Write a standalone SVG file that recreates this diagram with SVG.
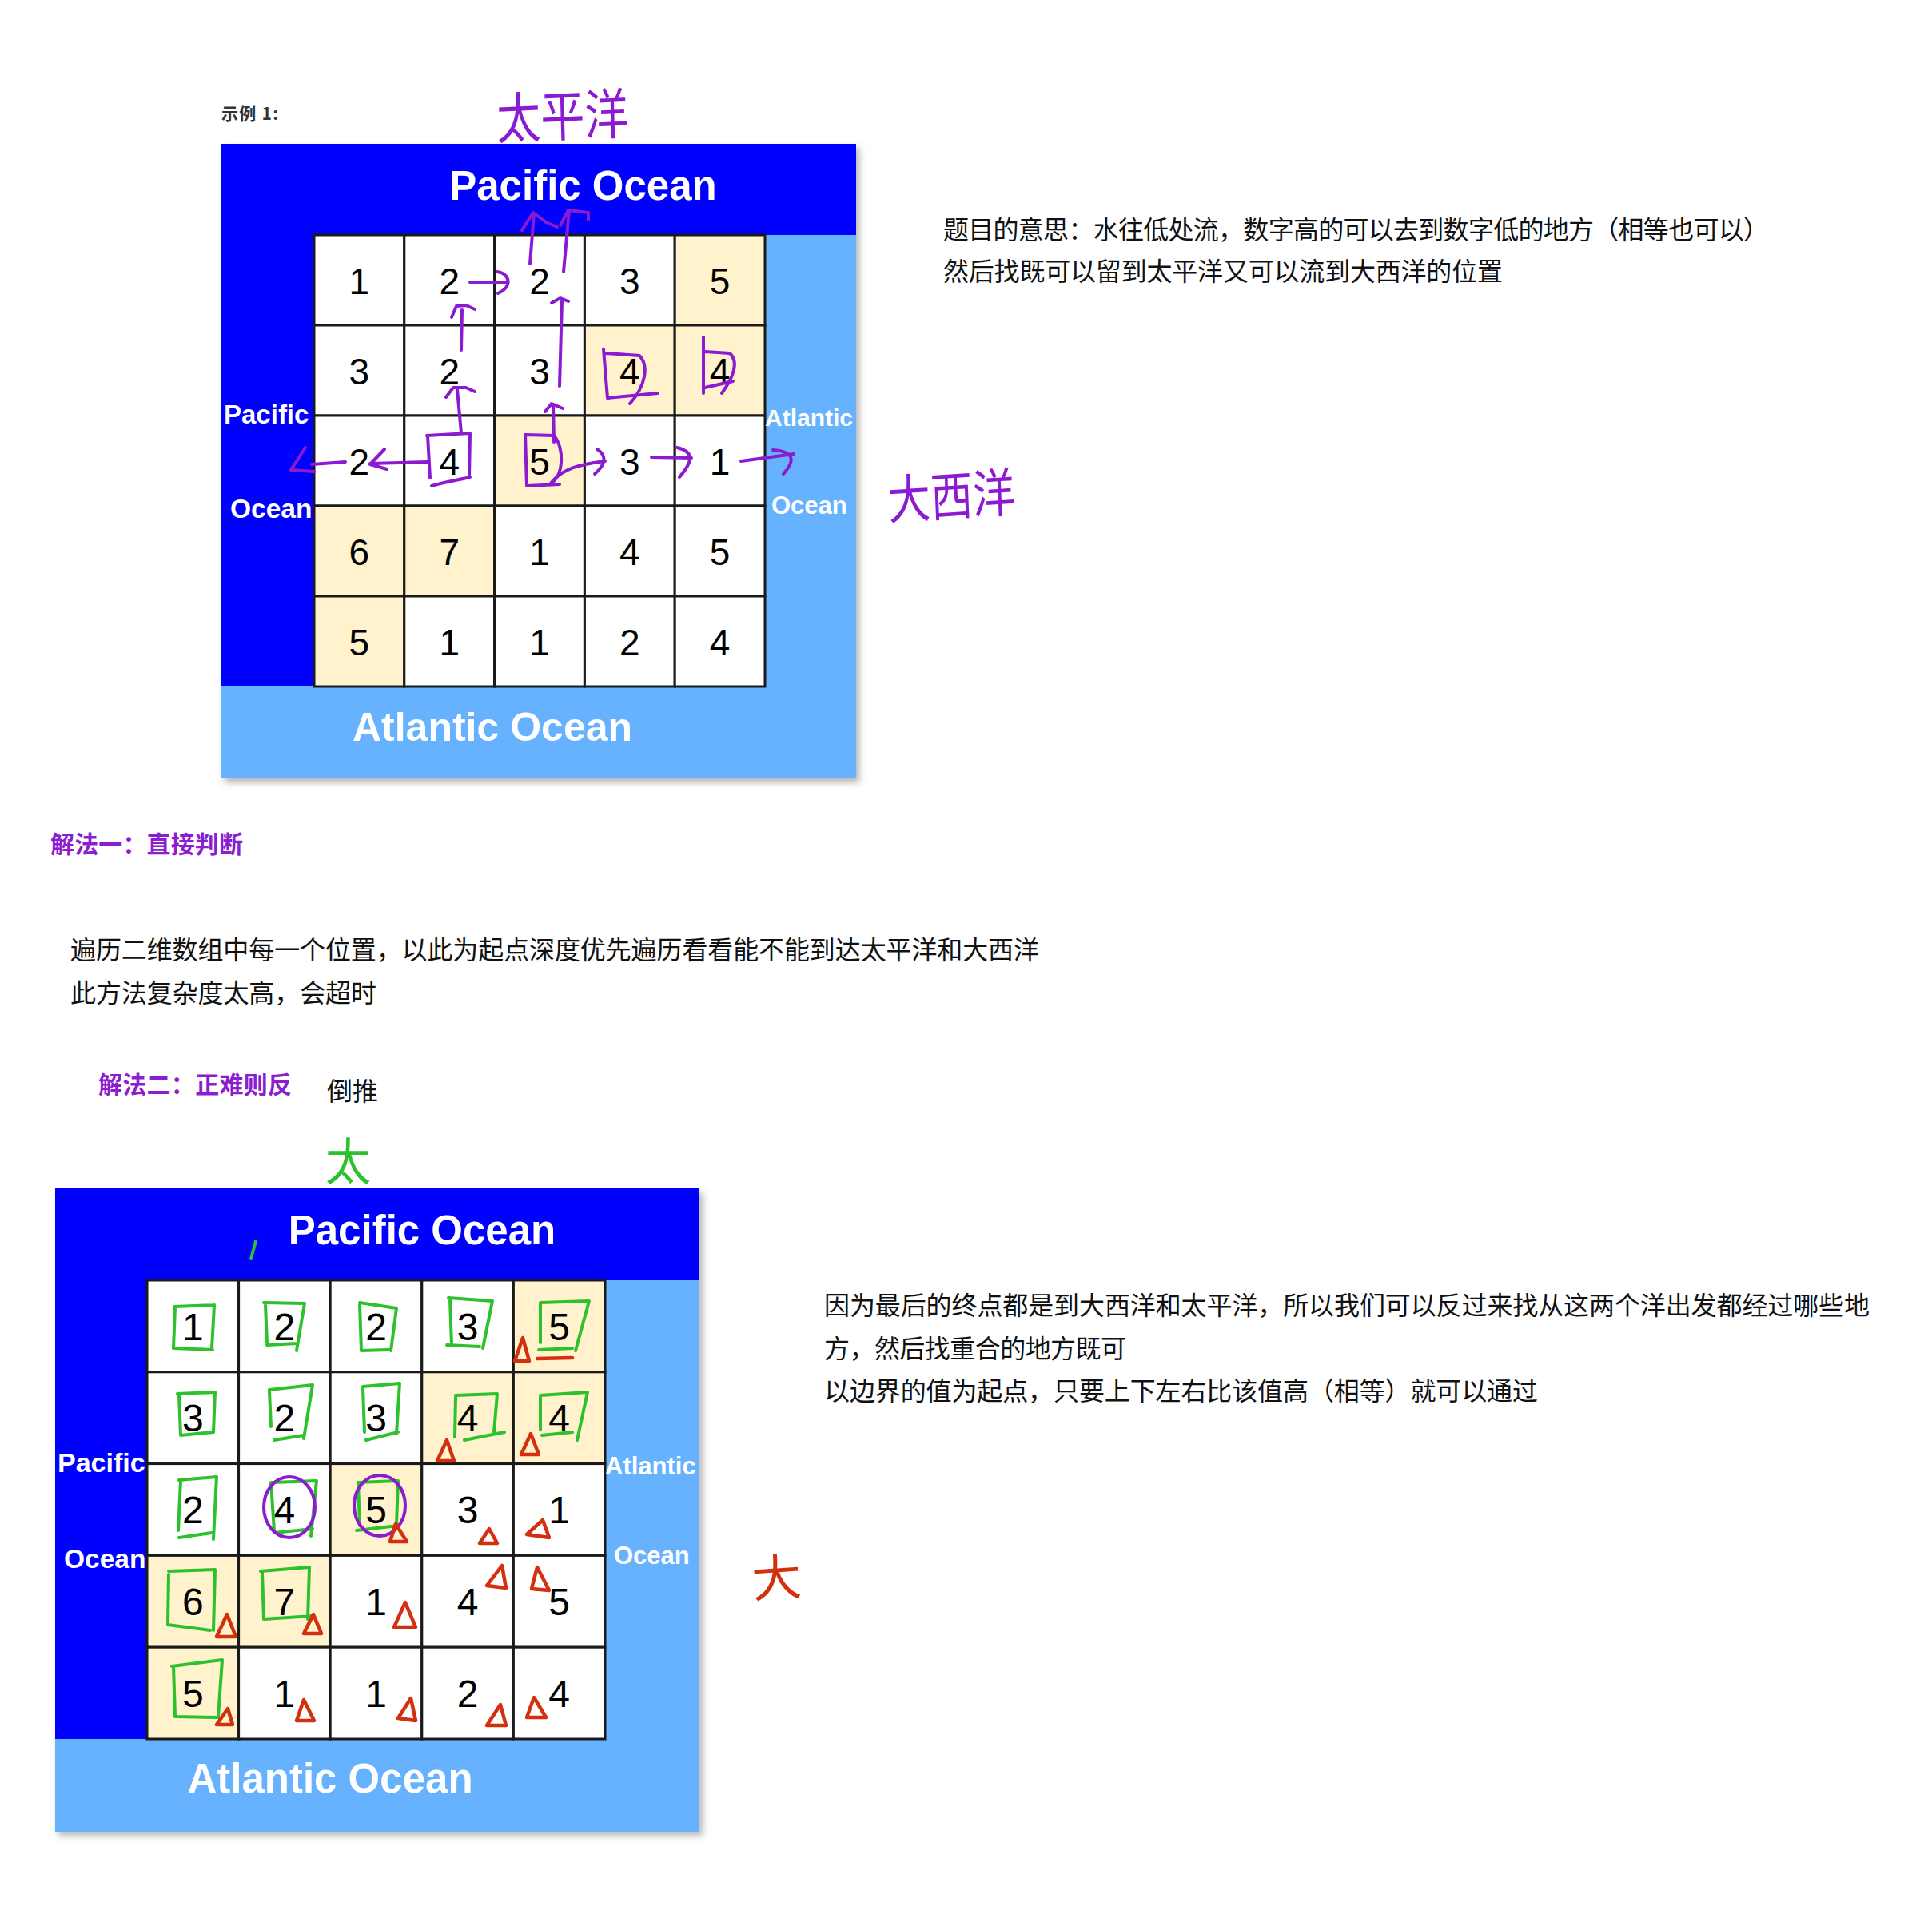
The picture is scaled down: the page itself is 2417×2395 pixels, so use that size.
<svg xmlns="http://www.w3.org/2000/svg" width="2417" height="2395" viewBox="0 0 2417 2395">
<defs>
<filter id="sh" x="-5%" y="-5%" width="115%" height="115%">
<feDropShadow dx="4" dy="5" stdDeviation="4" flood-color="#777" flood-opacity="0.55"/>
</filter>
</defs>
<style>
.dk{fill:#0000FF}
.lt{fill:#66B2FF}
.w{fill:#FFFFFF;stroke:#1a1a1a;stroke-width:3}
.c{fill:#FFF2CC;stroke:#1a1a1a;stroke-width:3}
.n{font-family:"Liberation Sans",Arial,sans-serif;fill:#000;text-anchor:middle;font-size:46px}
.nb{font-family:"Liberation Sans",Arial,sans-serif;fill:#000;text-anchor:middle;font-size:48px}
.l{font-family:"Liberation Sans",Arial,sans-serif;font-weight:bold;fill:#fff}
.cn{font-family:"Noto Sans CJK SC","Liberation Sans",sans-serif;fill:#111;font-size:32px}
.hd{font-family:"Noto Sans CJK SC","Liberation Sans",sans-serif;fill:#8A1ED2;font-size:30px;font-weight:bold}
.hw{font-family:"Noto Sans CJK SC",sans-serif}
.pp{fill:none;stroke:#8A1BD1;stroke-width:4;stroke-linecap:round;stroke-linejoin:round}
.gr{fill:none;stroke:#2DC22D;stroke-width:4;stroke-linecap:round;stroke-linejoin:round}
.rd{fill:none;stroke:#D2300F;stroke-width:4.5;stroke-linecap:round;stroke-linejoin:round}
</style>
<rect width="2417" height="2395" fill="#fff"/>

<text id="example-label" x="277" y="150" font-family="Noto Sans CJK SC, sans-serif" font-size="21" font-weight="bold" fill="#333" textLength="71">示例 1:</text>
<text id="hw-pacific" class="hw" transform="translate(622,174) scale(1,1.25) rotate(-2)" font-size="55" fill="#8A1BD1">太平洋</text>

<g id="top-diagram">
<g filter="url(#sh)">
<rect x="277" y="180" width="794" height="794" class="lt"/>
</g>
<rect x="277" y="180" width="794" height="114" class="dk"/>
<rect x="277" y="180" width="116" height="679" class="dk"/>
<g id="top-cells">
<g id="t00"><rect x="393" y="294" width="112.8" height="113" class="w"/><text x="449.4" y="367.5" class="n">1</text></g>
<g id="t01"><rect x="505.8" y="294" width="112.8" height="113" class="w"/><text x="562.2" y="367.5" class="n">2</text></g>
<g id="t02"><rect x="618.6" y="294" width="112.8" height="113" class="w"/><text x="675" y="367.5" class="n">2</text></g>
<g id="t03"><rect x="731.4" y="294" width="112.8" height="113" class="w"/><text x="787.8" y="367.5" class="n">3</text></g>
<g id="t04"><rect x="844.2" y="294" width="112.8" height="113" class="c"/><text x="900.6" y="367.5" class="n">5</text></g>
<g id="t10"><rect x="393" y="407" width="112.8" height="113" class="w"/><text x="449.4" y="480.5" class="n">3</text></g>
<g id="t11"><rect x="505.8" y="407" width="112.8" height="113" class="w"/><text x="562.2" y="480.5" class="n">2</text></g>
<g id="t12"><rect x="618.6" y="407" width="112.8" height="113" class="w"/><text x="675" y="480.5" class="n">3</text></g>
<g id="t13"><rect x="731.4" y="407" width="112.8" height="113" class="c"/><text x="787.8" y="480.5" class="n">4</text></g>
<g id="t14"><rect x="844.2" y="407" width="112.8" height="113" class="c"/><text x="900.6" y="480.5" class="n">4</text></g>
<g id="t20"><rect x="393" y="520" width="112.8" height="113" class="w"/><text x="449.4" y="593.5" class="n">2</text></g>
<g id="t21"><rect x="505.8" y="520" width="112.8" height="113" class="w"/><text x="562.2" y="593.5" class="n">4</text></g>
<g id="t22"><rect x="618.6" y="520" width="112.8" height="113" class="c"/><text x="675" y="593.5" class="n">5</text></g>
<g id="t23"><rect x="731.4" y="520" width="112.8" height="113" class="w"/><text x="787.8" y="593.5" class="n">3</text></g>
<g id="t24"><rect x="844.2" y="520" width="112.8" height="113" class="w"/><text x="900.6" y="593.5" class="n">1</text></g>
<g id="t30"><rect x="393" y="633" width="112.8" height="113" class="c"/><text x="449.4" y="706.5" class="n">6</text></g>
<g id="t31"><rect x="505.8" y="633" width="112.8" height="113" class="c"/><text x="562.2" y="706.5" class="n">7</text></g>
<g id="t32"><rect x="618.6" y="633" width="112.8" height="113" class="w"/><text x="675" y="706.5" class="n">1</text></g>
<g id="t33"><rect x="731.4" y="633" width="112.8" height="113" class="w"/><text x="787.8" y="706.5" class="n">4</text></g>
<g id="t34"><rect x="844.2" y="633" width="112.8" height="113" class="w"/><text x="900.6" y="706.5" class="n">5</text></g>
<g id="t40"><rect x="393" y="746" width="112.8" height="113" class="c"/><text x="449.4" y="819.5" class="n">5</text></g>
<g id="t41"><rect x="505.8" y="746" width="112.8" height="113" class="w"/><text x="562.2" y="819.5" class="n">1</text></g>
<g id="t42"><rect x="618.6" y="746" width="112.8" height="113" class="w"/><text x="675" y="819.5" class="n">1</text></g>
<g id="t43"><rect x="731.4" y="746" width="112.8" height="113" class="w"/><text x="787.8" y="819.5" class="n">2</text></g>
<g id="t44"><rect x="844.2" y="746" width="112.8" height="113" class="w"/><text x="900.6" y="819.5" class="n">4</text></g>
</g>
<text class="l" x="729.5" y="250" font-size="51" text-anchor="middle">Pacific Ocean</text>
<text class="l" x="280" y="530" font-size="33">Pacific</text>
<text class="l" x="288" y="648" font-size="33.5">Ocean</text>
<text class="l" x="957" y="533" font-size="30">Atlantic</text>
<text class="l" x="965" y="643" font-size="31">Ocean</text>
<text class="l" x="616" y="927" font-size="50" text-anchor="middle">Atlantic Ocean</text>
</g>

<g id="top-annotations">
<path class="pp" d="M588 353 L634 353 M622 340 C640 343 640 360 623 367"/>
<path class="pp" d="M663 330 L668 267 M653 288 L667 266 L683 278 L697 284"/>
<path class="pp" d="M705 340 L712 263 M701 282 L711 263 L736 266 L736 275"/>
<path class="pp" d="M577 438 L578 388 M565 397 L571 383 L583 382 L594 387"/>
<path class="pp" d="M577 542 L572 487 M558 497 L567 485 L583 485 L594 490"/>
<path class="pp" d="M534 545 L588 542 L587 597 M535 545 L538 598 M540 608 C557 603 576 600 588 597"/>
<path class="pp" d="M535 578 L463 580 M481 562 L463 581 L484 587"/>
<path class="pp" d="M432 578 L390 581 M382 560 L364 588 L393 590"/>
<path class="pp" d="M693 553 L692 507 M682 515 L690 505 L704 511"/>
<path class="pp" d="M700 483 L703 377 M690 379 L701 373 L711 377"/>
<path class="pp" d="M657 544 L659 608 L700 606 M657 544 L693 545 C706 560 706 595 688 606 M688 606 C700 590 716 582 757 577 M747 562 C759 570 759 580 744 593"/>
<path class="pp" d="M815 572 L865 573 M847 560 C868 565 868 576 850 597"/>
<path class="pp" d="M927 577 L993 568 M967 563 C994 565 995 576 980 593"/>
<path class="pp" d="M755 437 L760 498 M757 442 L800 445 C812 457 808 483 788 505 M760 498 L823 492"/>
<path class="pp" d="M880 422 L880 492 M882 440 L913 442 C925 453 917 473 903 492 M882 485 L917 477"/>
</g>

<text id="hw-atlantic" class="hw" transform="translate(1112,650) scale(1,1.25) rotate(-3)" font-size="53" fill="#8A1BD1">大西洋</text>

<g id="desc-top">
<text class="cn" x="1180" y="299" font-size="31" textLength="1033">题目的意思：水往低处流，数字高的可以去到数字低的地方（相等也可以）</text>
<text class="cn" x="1180" y="351" font-size="31" textLength="700">然后找既可以留到太平洋又可以流到大西洋的位置</text>
</g>

<text id="heading1" class="hd" x="63" y="1067" textLength="241">解法一：直接判断</text>
<g id="desc-method1">
<text class="cn" x="88" y="1200" textLength="1212">遍历二维数组中每一个位置，以此为起点深度优先遍历看看能不能到达太平洋和大西洋</text>
<text class="cn" x="88" y="1254" textLength="383">此方法复杂度太高，会超时</text>
</g>
<text id="heading2" class="hd" x="123" y="1368" textLength="242">解法二：正难则反</text>
<text id="reverse" class="cn" x="409" y="1377" textLength="64">倒推</text>

<text id="hw-tai" class="hw" transform="translate(407,1476) scale(1,1.1)" font-size="57" fill="#2DC22D">太</text>

<g id="bottom-diagram">
<g filter="url(#sh)">
<rect x="69" y="1487" width="806" height="805" class="lt"/>
</g>
<rect x="69" y="1487" width="806" height="115" class="dk"/>
<rect x="69" y="1487" width="115" height="689" class="dk"/>
<g id="bottom-cells">
<g id="b00"><rect x="184" y="1602" width="114.6" height="114.8" class="w"/><text x="241.3" y="1676.6" class="nb">1</text></g>
<g id="b01"><rect x="298.6" y="1602" width="114.6" height="114.8" class="w"/><text x="355.9" y="1676.6" class="nb">2</text></g>
<g id="b02"><rect x="413.2" y="1602" width="114.6" height="114.8" class="w"/><text x="470.5" y="1676.6" class="nb">2</text></g>
<g id="b03"><rect x="527.8" y="1602" width="114.6" height="114.8" class="w"/><text x="585.1" y="1676.6" class="nb">3</text></g>
<g id="b04"><rect x="642.4" y="1602" width="114.6" height="114.8" class="c"/><text x="699.7" y="1676.6" class="nb">5</text></g>
<g id="b10"><rect x="184" y="1716.8" width="114.6" height="114.8" class="w"/><text x="241.3" y="1791.4" class="nb">3</text></g>
<g id="b11"><rect x="298.6" y="1716.8" width="114.6" height="114.8" class="w"/><text x="355.9" y="1791.4" class="nb">2</text></g>
<g id="b12"><rect x="413.2" y="1716.8" width="114.6" height="114.8" class="w"/><text x="470.5" y="1791.4" class="nb">3</text></g>
<g id="b13"><rect x="527.8" y="1716.8" width="114.6" height="114.8" class="c"/><text x="585.1" y="1791.4" class="nb">4</text></g>
<g id="b14"><rect x="642.4" y="1716.8" width="114.6" height="114.8" class="c"/><text x="699.7" y="1791.4" class="nb">4</text></g>
<g id="b20"><rect x="184" y="1831.6" width="114.6" height="114.8" class="w"/><text x="241.3" y="1906.2" class="nb">2</text></g>
<g id="b21"><rect x="298.6" y="1831.6" width="114.6" height="114.8" class="w"/><text x="355.9" y="1906.2" class="nb">4</text></g>
<g id="b22"><rect x="413.2" y="1831.6" width="114.6" height="114.8" class="c"/><text x="470.5" y="1906.2" class="nb">5</text></g>
<g id="b23"><rect x="527.8" y="1831.6" width="114.6" height="114.8" class="w"/><text x="585.1" y="1906.2" class="nb">3</text></g>
<g id="b24"><rect x="642.4" y="1831.6" width="114.6" height="114.8" class="w"/><text x="699.7" y="1906.2" class="nb">1</text></g>
<g id="b30"><rect x="184" y="1946.4" width="114.6" height="114.8" class="c"/><text x="241.3" y="2021" class="nb">6</text></g>
<g id="b31"><rect x="298.6" y="1946.4" width="114.6" height="114.8" class="c"/><text x="355.9" y="2021" class="nb">7</text></g>
<g id="b32"><rect x="413.2" y="1946.4" width="114.6" height="114.8" class="w"/><text x="470.5" y="2021" class="nb">1</text></g>
<g id="b33"><rect x="527.8" y="1946.4" width="114.6" height="114.8" class="w"/><text x="585.1" y="2021" class="nb">4</text></g>
<g id="b34"><rect x="642.4" y="1946.4" width="114.6" height="114.8" class="w"/><text x="699.7" y="2021" class="nb">5</text></g>
<g id="b40"><rect x="184" y="2061.2" width="114.6" height="114.8" class="c"/><text x="241.3" y="2135.8" class="nb">5</text></g>
<g id="b41"><rect x="298.6" y="2061.2" width="114.6" height="114.8" class="w"/><text x="355.9" y="2135.8" class="nb">1</text></g>
<g id="b42"><rect x="413.2" y="2061.2" width="114.6" height="114.8" class="w"/><text x="470.5" y="2135.8" class="nb">1</text></g>
<g id="b43"><rect x="527.8" y="2061.2" width="114.6" height="114.8" class="w"/><text x="585.1" y="2135.8" class="nb">2</text></g>
<g id="b44"><rect x="642.4" y="2061.2" width="114.6" height="114.8" class="w"/><text x="699.7" y="2135.8" class="nb">4</text></g>
</g>
<text class="l" x="528" y="1557" font-size="51" text-anchor="middle">Pacific Ocean</text>
<text class="l" x="72" y="1842" font-size="34">Pacific</text>
<text class="l" x="80" y="1962" font-size="33.5">Ocean</text>
<text class="l" x="757" y="1845" font-size="31">Atlantic</text>
<text class="l" x="768" y="1957" font-size="31">Ocean</text>
<text class="l" x="413" y="2243" font-size="51" text-anchor="middle">Atlantic Ocean</text>
</g>

<g id="bottom-annotations">
<path class="gr" d="M320 1553 L314 1575"/>
<path class="gr" d="M218 1635 L268 1633 M268 1633 L265 1688 M219 1636 L217 1687 L266 1689"/>
<path class="gr" d="M330 1630 L381 1631 L371 1690 M332 1633 L334 1680 M334 1683 L371 1681"/>
<path class="gr" d="M450 1630 L496 1637 L489 1690 M450 1633 L452 1690 L487 1689"/>
<path class="gr" d="M561 1624 L616 1628 L604 1687 M563 1626 L565 1683 M559 1683 L600 1685"/>
<path class="gr" d="M676 1630 L737 1628 L720 1690 M676 1631 L676 1680 M674 1689 L716 1687"/>
<path class="gr" d="M222 1744 L269 1742 L267 1792 M224 1746 L226 1796 L267 1792"/>
<path class="gr" d="M337 1739 L391 1733 L380 1800 M337 1741 L339 1785 M343 1802 L380 1796"/>
<path class="gr" d="M454 1735 L500 1731 L496 1794 M454 1737 L456 1792 M458 1802 L498 1792"/>
<path class="gr" d="M570 1746 L622 1744 L618 1792 M570 1748 L569 1798 M581 1802 L631 1792"/>
<path class="gr" d="M676 1746 L735 1742 L722 1802 M676 1748 L676 1789 M678 1796 L716 1792"/>
<path class="gr" d="M224 1852 L271 1848 L267 1926 M226 1853 L223 1915 M224 1924 L265 1918"/>
<path class="gr" d="M341 1855 L396 1853 L389 1922 M339 1855 L343 1916 M343 1918 L391 1913"/>
<path class="gr" d="M448 1855 L498 1853 L496 1907 M448 1855 L450 1909 M446 1915 L498 1909"/>
<path class="gr" d="M211 1966 L269 1964 L267 2040 M211 1970 L210 2033 L263 2040"/>
<path class="gr" d="M326 1966 L387 1961 L385 2026 M328 1968 L330 2026 L391 2022"/>
<path class="gr" d="M215 2085 L278 2077 L273 2148 M217 2085 L219 2148 L274 2149"/>
<ellipse class="pp" cx="362" cy="1886" rx="32" ry="38"/>
<ellipse class="pp" cx="475" cy="1884" rx="32" ry="38"/>
<path class="rd" d="M672 1700 L716 1699"/>
<path class="rd" d="M654 1674 L662 1703 L644 1703 Z"/>
<path class="rd" d="M559 1802 L568 1828 L547 1828 Z"/>
<path class="rd" d="M664 1794 L674 1820 L652 1820 Z"/>
<path class="rd" d="M495 1907 L509 1929 L488 1929 Z"/>
<path class="rd" d="M612 1913 L622 1931 L600 1931 Z"/>
<path class="rd" d="M679 1902 L687 1924 L659 1920 Z"/>
<path class="rd" d="M284 2020 L295 2048 L271 2048 Z"/>
<path class="rd" d="M392 2020 L402 2044 L380 2044 Z"/>
<path class="rd" d="M507 2005 L520 2036 L493 2036 Z"/>
<path class="rd" d="M628 1959 L633 1987 L609 1984 Z"/>
<path class="rd" d="M672 1961 L687 1990 L665 1988 Z"/>
<path class="rd" d="M285 2138 L291 2158 L271 2158 Z"/>
<path class="rd" d="M380 2127 L393 2153 L371 2153 Z"/>
<path class="rd" d="M514 2125 L520 2153 L498 2150 Z"/>
<path class="rd" d="M626 2133 L633 2159 L609 2159 Z"/>
<path class="rd" d="M668 2124 L683 2149 L659 2149 Z"/>
</g>

<g id="desc-method2">
<text class="cn" x="1031" y="1645" textLength="1308">因为最后的终点都是到大西洋和太平洋，所以我们可以反过来找从这两个洋出发都经过哪些地</text>
<text class="cn" x="1031" y="1699" textLength="378">方，然后找重合的地方既可</text>
<text class="cn" x="1031" y="1752" textLength="893">以边界的值为起点，只要上下左右比该值高（相等）就可以通过</text>
</g>

<text id="hw-da" class="hw" transform="translate(942,1999) rotate(-4)" font-size="62" fill="#D2300F">大</text>
</svg>
